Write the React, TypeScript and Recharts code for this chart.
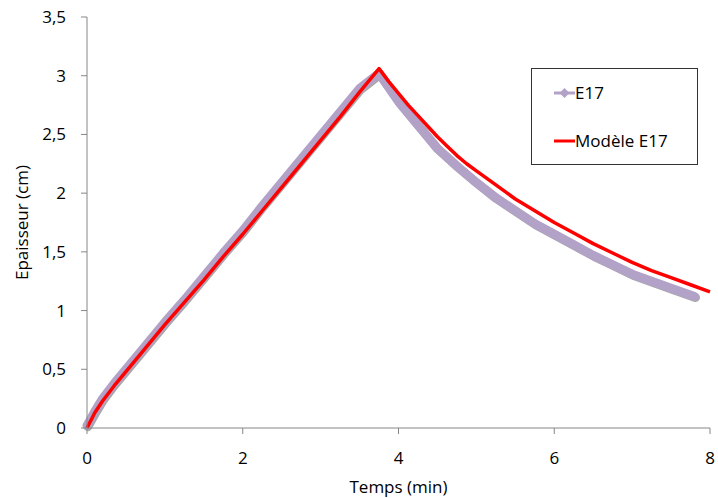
import { LineChart, Line, XAxis, YAxis } from 'recharts';

// E17 measurements (time in min, thickness in cm)
const e17Time = [0, 0.1, 0.2, 0.35, 0.5, 0.75, 1, 1.25, 1.5, 1.75, 2, 2.25, 2.5, 2.75, 3, 3.25, 3.5, 3.75,
  4, 4.25, 4.5, 4.75, 5, 5.25, 5.5, 5.75, 6, 6.25, 6.5, 6.75, 7, 7.25, 7.5, 7.8];
const e17Value = [0.02, 0.14, 0.25, 0.38, 0.5, 0.7, 0.9, 1.09, 1.29, 1.49, 1.68, 1.89, 2.09, 2.29, 2.49, 2.69, 2.89, 3.02,
  2.78, 2.58, 2.38, 2.23, 2.09, 1.96, 1.85, 1.74, 1.65, 1.56, 1.47, 1.39, 1.31, 1.25, 1.19, 1.12];

// model curve
const modelTime = [0, 0.1, 0.2, 0.35, 0.5, 0.75, 1, 1.25, 1.5, 1.75, 2, 2.25, 2.5, 2.75, 3, 3.25, 3.5, 3.75,
  3.875, 4, 4.125, 4.25, 4.375, 4.5, 4.625, 4.75, 4.875, 5, 5.125, 5.25, 5.5, 5.75, 6, 6.25, 6.5, 6.75, 7, 7.25, 7.5, 7.75, 8];
const modelValue = [0, 0.13, 0.23, 0.36, 0.48, 0.68, 0.88, 1.07, 1.26, 1.46, 1.65, 1.85, 2.05, 2.25, 2.45, 2.65, 2.86, 3.06,
  2.95, 2.85, 2.75, 2.66, 2.57, 2.48, 2.4, 2.32, 2.25, 2.19, 2.13, 2.07, 1.95, 1.85, 1.75, 1.66, 1.57, 1.49, 1.41, 1.34, 1.28, 1.22, 1.16];

const xTicks = [0, 2, 4, 6, 8];
const yTicks = [0, 0.5, 1, 1.5, 2, 2.5, 3, 3.5];

const e17Data = e17Time.map((t, i) => ({ t, v: e17Value[i] }));
const modelData = modelTime.map((t, i) => ({ t, v: modelValue[i] }));

const FONT = '"Open Sans", sans-serif';
const fmt = (v: number) => String(v).replace('.', ',');

const LegendBox = () => (
  <div
    style={{
      position: 'absolute',
      left: 531,
      top: 68,
      width: 165,
      height: 95,
      border: '1px solid #333',
      background: '#fff',
    }}
  >
    <svg width={165} height={95} style={{ position: 'absolute', left: 0, top: 0 }}>
      <line x1={22} y1={24} x2={43} y2={24} stroke="#B3A2C7" strokeWidth={3} />
      <polygon points="32.5,19 37.5,24 32.5,29 27.5,24" fill="#B3A2C7" />
      <text x={43} y={30} fontFamily={FONT} fontSize={17} fill="#000">E17</text>
      <line x1={22} y1={72} x2={43} y2={72} stroke="#FF0000" strokeWidth={3} />
      <text x={43} y={78} fontFamily={FONT} fontSize={17} fill="#000">Modèle E17</text>
    </svg>
  </div>
);

export default function App() {
  return (
    <div style={{ position: 'absolute', left: 0, top: 0, width: 718, height: 498, background: '#fff' }}>
      <LineChart width={718} height={498} margin={{ top: 17, right: 8, left: 0, bottom: 0 }}>
        <XAxis
          type="number"
          dataKey="t"
          domain={[0, 8]}
          ticks={xTicks}
          allowDuplicatedCategory={false}
          height={70}
          tickSize={6}
          tickMargin={18}
          stroke="#868686"
          tick={{ fill: '#000', fontSize: 17, fontFamily: FONT }}
          tickFormatter={fmt}
          label={{ value: 'Temps (min)', position: 'insideBottom', offset: 5, fill: '#000', fontSize: 17, fontFamily: FONT }}
        />
        <YAxis
          type="number"
          dataKey="v"
          domain={[0, 3.5]}
          ticks={yTicks}
          width={87}
          tickSize={6}
          tickMargin={15}
          stroke="#868686"
          tick={{ fill: '#000', fontSize: 17, fontFamily: FONT }}
          tickFormatter={fmt}
          label={{ value: 'Epaisseur (cm)', angle: -90, position: 'insideLeft', offset: 22, fill: '#000', fontSize: 17, fontFamily: FONT, style: { textAnchor: 'middle' } }}
        />
        <Line
          data={e17Data}
          dataKey="v"
          type="linear"
          stroke="#B3A2C7"
          strokeWidth={9}
          strokeLinejoin="round"
          strokeLinecap="round"
          dot={false}
          style={{ filter: 'drop-shadow(1px 1px 0.6px rgba(60,60,60,0.45))' }}
          isAnimationActive={false}
        />
        <Line
          data={modelData}
          dataKey="v"
          type="linear"
          stroke="#FF0000"
          strokeWidth={3.5}
          strokeLinejoin="round"
          dot={false}
          isAnimationActive={false}
        />
      </LineChart>
      <LegendBox />
    </div>
  );
}
